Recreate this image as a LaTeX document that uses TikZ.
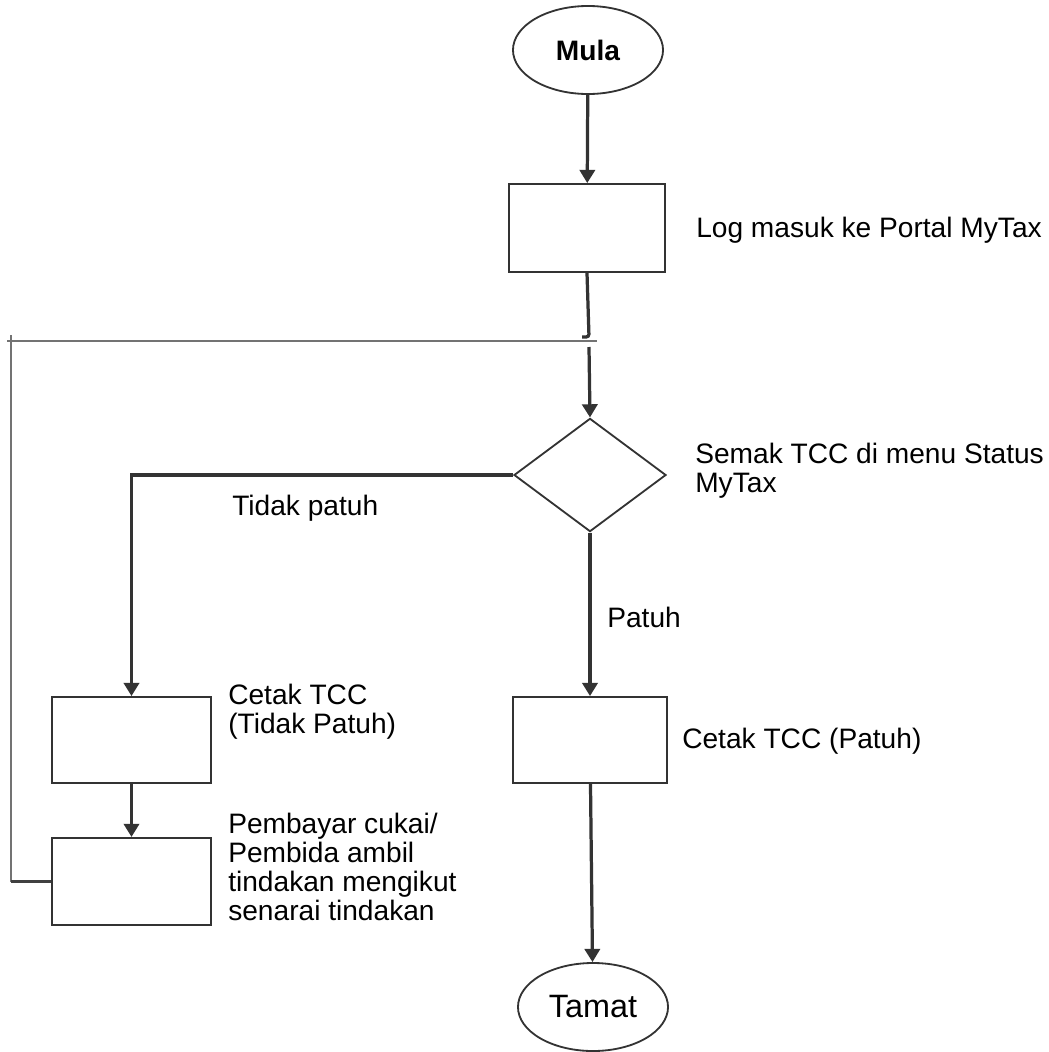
\documentclass[tikz,border=0pt]{standalone}
\usepackage{fontspec}
\setmainfont{Liberation Sans}
\usetikzlibrary{shapes.geometric,arrows.meta}

\begin{document}
\begin{tikzpicture}[x=0.025cm,y=-0.025cm,
		kotak/.style={draw=black!80,line width=1.3pt,minimum width=3.9cm,minimum height=2.2cm,inner sep=0pt},
		bujur/.style={ellipse,draw=black!80,line width=1.3pt,minimum width=3.75cm,minimum height=2.2cm,inner sep=0pt,font=\fontsize{23}{23}\selectfont},
		aliran/.style={line width=2.3pt,draw=black!80,-{Triangle[length=3.3mm,width=3.8mm]}},
		ulang/.style={line width=1pt,draw=black!55},
		teks/.style={anchor=base west,inner sep=0pt,align=left,font=\fontsize{20}{20.6}\selectfont}]
		\useasboundingbox(0,0)rectangle(1048,1052);
		% bentuk
		\node[bujur,font=\fontsize{20}{20}\selectfont\bfseries](mula)at(588,50){Mula};
		\node[kotak](masuk)at(587,228){};
		\node[diamond,draw=black!80,line width=1.3pt,minimum width=3.8cm,minimum height=2.83cm,inner sep=0pt](semak)at(590,475){};
		\node[kotak,minimum width=3.97cm,minimum height=2.15cm](tcctp)at(131.5,740){};
		\node[kotak,minimum width=3.97cm,minimum height=2.18cm](tindakan)at(131.5,881.5){};
		\node[kotak,minimum width=3.85cm,minimum height=2.15cm](tccp)at(590,740){};
		\node[bujur](tamat)at(593,1007){Tamat};
		% teks (base = baris terakhir)
		\node[teks](lmasuk)at(696,237){Log masuk ke Portal MyTax};
		\node[teks](lsemak)at(695,492){Semak TCC di menu Status\\MyTax};
		\node[teks](ltidak)at(232,515){Tidak patuh};
		\node[teks](lpatuh)at(607,627){Patuh};
		\node[teks](ltcctp)at(228,733){Cetak TCC\\(Tidak Patuh)};
		\node[teks](ltindakan)at(228,920){Pembayar cukai/\\Pembida ambil\\tindakan mengikut\\senarai tindakan};
		\node[teks](ltccp)at(682,748){Cetak TCC (Patuh)};
		% garisan
		\coordinate(kait)at(589,337);
		\coordinate(sambung)at(589,347);
		\coordinate(atas)at(11,335);
		\coordinate(kiri)at(7,341);
		\coordinate(kanan)at(597,341);
		\draw[aliran](mula)--(masuk);
		\draw[line width=2.3pt,draw=black!80,rounded corners=2pt](masuk.south)--(kait)--++(-7,0);
		\draw[aliran](sambung)--(semak.north);
		\draw[aliran](semak.west)-|(tcctp.north);
		\draw[aliran](tcctp)--(tindakan);
		\draw[aliran](semak)--(tccp);
		\draw[aliran](tccp)--(tamat);
		\draw[ulang](tindakan.west)-|(atas);
		\draw[line width=1.6pt,draw=black!75](tindakan.west)--(tindakan.west-|atas);
		\draw[ulang](kiri)--(kanan);
\end{tikzpicture}
\end{document}
